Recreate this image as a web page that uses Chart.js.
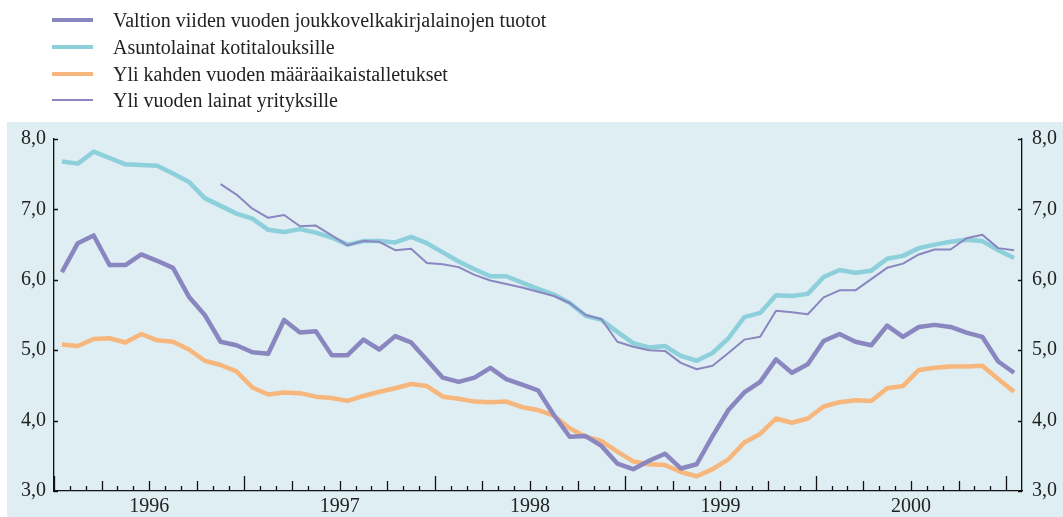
<!DOCTYPE html>
<html><head><meta charset="utf-8">
<script src="https://cdn.jsdelivr.net/npm/chart.js@4/dist/chart.umd.min.js"></script>
<style>
html,body{margin:0;padding:0;background:#fff;}
#wrap{position:relative;width:1063px;height:517px;overflow:hidden;}
#legend{position:absolute;left:0;top:0;font-family:"Liberation Serif","Times New Roman",serif;font-size:20px;color:#222;}
.row{position:absolute;left:52px;height:26px;white-space:nowrap;}
.sw{position:absolute;left:0;width:41px;}
.lab{position:absolute;left:61px;top:0;line-height:26px;}
canvas{position:absolute;left:0;top:0;}
</style></head>
<body><div id="wrap"><canvas id="c" width="1063" height="517"></canvas><div id="legend"></div></div>
<script>
const yearLabels = ["1996","1997","1998","1999","2000"];
const seriesNames = ["Valtion viiden vuoden joukkovelkakirjalainojen tuotot","Asuntolainat kotitalouksille","Yli kahden vuoden määräaikaistalletukset","Yli vuoden lainat yrityksille"];
const valtion = [6.11,6.52,6.63,6.21,6.21,6.36,6.27,6.17,5.76,5.5,5.12,5.07,4.97,4.95,5.43,5.25,5.27,4.93,4.93,5.15,5.01,5.20,5.11,4.86,4.61,4.55,4.61,4.75,4.59,4.51,4.43,4.08,3.77,3.78,3.64,3.39,3.31,3.43,3.53,3.32,3.38,3.78,4.15,4.40,4.55,4.87,4.68,4.80,5.13,5.23,5.12,5.07,5.35,5.19,5.33,5.36,5.33,5.25,5.19,4.84,4.68];
const asunto = [7.68,7.65,7.82,7.73,7.64,7.63,7.62,7.51,7.39,7.16,7.05,6.94,6.87,6.71,6.68,6.72,6.67,6.60,6.50,6.55,6.55,6.53,6.61,6.52,6.39,6.26,6.15,6.05,6.05,5.96,5.87,5.79,5.67,5.49,5.43,5.26,5.10,5.04,5.06,4.92,4.85,4.96,5.17,5.47,5.53,5.78,5.77,5.80,6.04,6.14,6.10,6.13,6.30,6.34,6.45,6.50,6.54,6.57,6.55,6.42,6.31];
const talletukset = [5.08,5.06,5.16,5.17,5.11,5.23,5.14,5.12,5.01,4.85,4.79,4.70,4.47,4.37,4.40,4.39,4.34,4.32,4.28,4.35,4.41,4.46,4.52,4.49,4.34,4.31,4.27,4.26,4.27,4.19,4.15,4.07,3.89,3.77,3.71,3.56,3.42,3.38,3.37,3.27,3.21,3.31,3.45,3.69,3.81,4.03,3.97,4.03,4.20,4.26,4.29,4.28,4.46,4.49,4.72,4.75,4.77,4.77,4.78,4.59,4.41];
const yritykset = [null,null,null,null,null,null,null,null,null,null,7.36,7.21,7.01,6.88,6.92,6.76,6.77,6.63,6.49,6.55,6.54,6.42,6.44,6.24,6.22,6.18,6.07,5.99,5.94,5.89,5.83,5.77,5.67,5.50,5.44,5.12,5.05,5.00,4.99,4.82,4.73,4.78,4.96,5.15,5.19,5.56,5.54,5.51,5.75,5.85,5.85,6.01,6.17,6.23,6.36,6.43,6.43,6.59,6.64,6.45,6.42];

const colors = ["#8a86c0","#8ecfdc","#f7b67c","#8a86c0"];
const widths = [4.5,4.5,4.5,2];
const allSeries = [valtion, asunto, talletukset, yritykset];

// legend
const lg = document.getElementById('legend');
const rowTops = [7,34,61,87];
seriesNames.forEach((n,i)=>{
  const r=document.createElement('div');r.className='row';r.style.top=rowTops[i]+'px';
  const s=document.createElement('div');s.className='sw';s.style.background=colors[i];s.style.height=(i===3?2:4)+'px';s.style.top=(i===3?12:11)+'px';
  const t=document.createElement('div');t.className='lab';t.textContent=n;
  r.appendChild(s);r.appendChild(t);lg.appendChild(r);
});

const toPts = arr => arr.map((v,i)=>({x:i+0.5,y:v}));
const datasets = allSeries.map((arr,i)=>({
  label: seriesNames[i], data: toPts(arr), borderColor: colors[i], backgroundColor: colors[i],
  borderWidth: widths[i], pointRadius: 0, tension: 0, spanGaps:false, borderJoinStyle:'round', borderCapStyle:'butt',
  yAxisID:'y', order: i===3?0:(i===1?3:(i===0?1:2))
}));

const fontT = {family:"'Liberation Serif','Times New Roman',serif", size:20};

const bgPlugin = {
  id:'bg',
  beforeDraw(chart){
    const ctx=chart.ctx; ctx.save(); ctx.fillStyle='#dfeef3'; ctx.fillRect(7,122,1056,395); ctx.restore();
  },
  afterDraw(chart){
    const ctx=chart.ctx, xs=chart.scales.x, ys=chart.scales.y, a=chart.chartArea;
    ctx.save(); ctx.strokeStyle='#111'; ctx.lineWidth=1.3;
    ctx.beginPath();
    for(let m=0;m<=60;m++){
      const x=Math.round(xs.getPixelForValue(m))+0.5;
      const len = m%12===0?15:(m%3===0?10:5);
      ctx.moveTo(x,a.bottom); ctx.lineTo(x,a.bottom-len);
    }
    for(let v=3; v<=8; v++){
      const y=Math.round(ys.getPixelForValue(v))+0.5;
      ctx.moveTo(a.left,y); ctx.lineTo(a.left+4,y);
      ctx.moveTo(a.right,y); ctx.lineTo(a.right-4,y);
    }
    ctx.stroke(); ctx.restore();
  }
};

new Chart(document.getElementById('c'), {
  type:'line',
  data:{datasets},
  options:{
    responsive:false, animation:false, devicePixelRatio:1,
    layout:{padding:{top:139,left:0,right:0,bottom:0}},
    plugins:{legend:{display:false}, tooltip:{enabled:false}},
    scales:{
      x:{type:'linear', min:0, max:61,
        grid:{display:false, drawTicks:false}, border:{display:true,color:'#111',width:1.3},
        afterBuildTicks(s){ s.ticks = yearLabels.map((l,i)=>({value:12*i+6})); },
        ticks:{font:fontT, color:'#222', padding:4, maxRotation:0, autoSkip:false,
          callback:(v,i)=>yearLabels[i]},
        afterFit(s){ s.height=26; }
      },
      y:{position:'left', min:3, max:8,
        grid:{display:false, drawTicks:false}, border:{display:true,color:'#111',width:1.3},
        ticks:{stepSize:1, font:fontT, color:'#222', padding:8, callback:v=>v.toFixed(1).replace('.',',')},
        afterFit(s){ s.width=54; }
      },
      y2:{position:'right', min:3, max:8,
        grid:{display:false, drawTicks:false}, border:{display:true,color:'#111',width:1.3},
        ticks:{stepSize:1, font:fontT, color:'#222', padding:10, callback:v=>v.toFixed(1).replace('.',',')},
        afterFit(s){ s.width=41; }
      }
    }
  },
  plugins:[bgPlugin]
});
</script></body></html>
